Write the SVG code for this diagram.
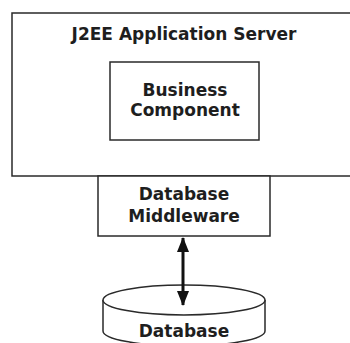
<svg xmlns="http://www.w3.org/2000/svg" width="350" height="343" viewBox="0 0 350 343">
  <defs>
    <style>
      .box { fill: #ffffff; stroke: #2a2a2a; stroke-width: 1.5; }
      .label { font-family: "DejaVu Sans", "Liberation Sans", sans-serif; font-weight: bold; font-size: 17px; fill: #1e1e1e; text-anchor: middle; }
      .link { stroke: #111111; stroke-width: 3; fill: none; }
    </style>
    <marker id="head" viewBox="0 0 15 12" refX="14" refY="6" markerWidth="15" markerHeight="12" markerUnits="userSpaceOnUse" orient="auto-start-reverse">
      <path d="M0,0 L15,6 L0,12 Z" fill="#111111"/>
    </marker>
  </defs>
  <rect width="350" height="343" fill="#ffffff"/>

  <!-- application server container -->
  <g id="app-server">
    <rect class="box" x="12" y="13" width="345" height="163"/>
    <text class="label" x="184" y="40">J2EE Application Server</text>
  </g>

  <!-- business component inside the server -->
  <g id="business-component">
    <rect class="box" x="110" y="62" width="149" height="78"/>
    <text class="label" x="185" y="96">Business</text>
    <text class="label" x="185" y="116">Component</text>
  </g>

  <!-- middleware attached below the server -->
  <g id="db-middleware">
    <rect class="box" x="98" y="176" width="172" height="60"/>
    <text class="label" x="184" y="200">Database</text>
    <text class="label" x="184" y="222">Middleware</text>
  </g>

  <!-- database cylinder -->
  <g id="database">
    <path class="box" d="M103,300 L103,331 A81,15 0 0 0 265,331 L265,300"/>
    <ellipse class="box" cx="184" cy="300" rx="81" ry="15"/>
    <text class="label" x="184" y="337">Database</text>
  </g>

  <!-- connectors -->
  <g id="connectors">
    <line class="link" x1="183" y1="238" x2="183" y2="305" marker-start="url(#head)" marker-end="url(#head)"/>
  </g>
</svg>
